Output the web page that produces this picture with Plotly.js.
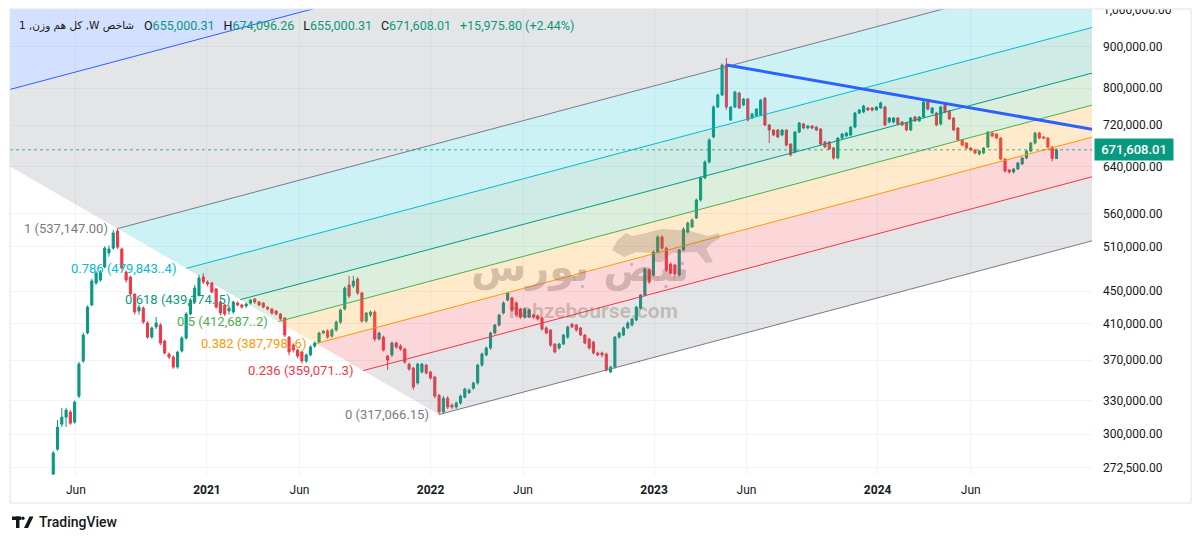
<!DOCTYPE html>
<html><head><meta charset="utf-8">
<script src="https://cdn.plot.ly/plotly-3.0.1.min.js"></script>
<style>html,body{margin:0;padding:0;background:#fff;}#chart{width:1200px;height:542px;}</style>
</head><body><div id="chart"></div>
<script>
// ---------- DATA ----------
const firstBarDate = '2020-04-25';   // weekly bars
const openPrices = [
267800,287400,308500,314700,319300,310300,334000,369000,399500,432500,
460400,464300,481700,501300,508200,533500,506900,474900,468300,446200,
425200,428800,411000,394900,406400,408700,390500,376400,373200,362800,
379600,393800,421600,436200,444900,468300,461700,460400,452600,436200,
432500,425200,424000,435000,432500,431300,434900,440000,436200,435000,
430000,427600,425200,421600,416900,394900,386100,380700,378600,369000,
375400,385000,389400,399500,401800,396000,402900,412100,427600,457800,
456500,465600,447500,413300,420400,424000,392700,394900,374300,375400,
388300,385000,381800,365800,361700,346700,357700,364800,357700,352600,
334900,319500,332100,325700,323800,327600,333000,337300,341700,346700,
364800,375400,382900,399500,408700,422800,438700,441200,435000,427600,
418000,418000,420400,419200,416900,405300,402900,387200,382900,387200,
394900,409800,408700,405300,397200,392700,389400,377500,377500,376400,
357700,362800,394900,397200,405300,408700,414500,428800,444900,477600,
470900,502600,524500,508200,485800,484400,470900,505500,532000,539600,
553500,582500,620000,648800,696400,758300,784500,854300,730900,758300,
789000,762600,775700,735000,739200,741300,777900,720600,710400,710400,
700400,710400,682600,667400,706400,722700,714400,718500,716400,712400,
686600,686600,675000,656200,694400,698400,700400,716400,745500,747700,
756200,756200,751900,756200,758300,726800,726800,735000,726800,724700,
710400,737100,728800,737100,769100,745500,745500,722700,762600,749800,
735000,714400,690500,684600,675000,671200,663600,665500,677000,704400,
702400,694400,654300,634200,630600,636000,645200,656200,669300,684600,
704400,696400,694400,677000,655000.31];
const highPrices = [
286000,312100,322900,322900,321000,330000,368000,400000,432000,466000,
476000,477600,511000,512000,535000,537147,509000,477000,470000,447000,
433000,431000,413000,407000,418000,411000,392000,378000,375000,380000,
396000,424000,441000,458000,471000,473500,464000,462000,454000,438000,
434000,432000,438000,437000,434000,435500,440000,441000,437500,436000,
431000,429000,426500,423000,418000,396000,388000,382000,380000,377000,
386000,390000,401000,403000,404000,404500,414000,428000,456000,469600,
469600,468000,449000,424000,426000,426000,401000,396500,375400,390000,
390000,387000,383000,367500,363000,367000,367000,366000,359000,354000,
336000,334000,334000,327000,329000,335500,342000,341500,348000,366000,
378000,384500,401000,410000,422000,437000,449000,443000,437000,429000,
429000,428000,422000,421000,418000,407000,404000,388000,388500,398500,
408000,411000,410000,406500,398500,394000,391000,379000,379000,378000,
364000,396000,401000,407000,413000,417000,431500,446000,481000,480000,
505000,527000,527000,510000,488000,486000,507000,539000,548000,553000,
585000,623000,652000,694000,762000,788000,858000,871400,760000,794000,
792000,778000,778000,746000,756000,776000,780000,722000,712000,712000,
712000,712000,684000,708000,727000,725000,720000,720000,718000,714000,
689000,688000,677000,696000,704000,706000,718000,748000,754000,763000,
758000,758000,760000,770000,761000,737000,737000,737000,728000,726000,
737000,739000,739000,772000,772000,758000,748000,761000,765000,752000,
737000,716000,692000,686000,677000,673000,671000,677000,708000,706000,
704000,696000,656000,636000,638000,649000,658000,671000,687000,707000,
707000,698000,696000,679000,674096.26];
const lowPrices = [
266000,286000,306000,306000,308000,309000,332000,367000,398000,431000,
458000,462000,480000,496000,506000,507000,478000,461000,444000,421000,
421000,410000,393000,393000,404000,386000,376000,371000,361000,361000,
378000,392000,420000,434000,443000,459000,456000,447000,428000,420000,
419000,421000,422000,431000,428000,429000,433000,434000,431000,428500,
426000,421000,420000,414000,395000,375000,378000,372000,366500,367000,
374000,383000,388000,398000,393000,394000,401000,410000,426000,441000,
454000,445000,411000,411000,418000,390000,391000,379000,359700,373000,
382000,380000,366000,359000,340000,345000,356000,355000,350000,332000,
317066.15,318000,322000,322000,322000,326000,332000,336000,340000,345000,
363000,374000,381000,398000,407000,421000,437000,424000,418000,416000,
416000,417000,416000,414000,402000,398000,384000,377000,381000,386000,
393000,405000,401000,396000,387000,381000,376000,374000,373000,358000,
356700,361000,393000,396000,404000,407000,413000,427000,443000,459000,
469000,501000,506000,475000,471000,469000,469000,504000,530000,538000,
552000,580000,618000,646000,694000,756000,782000,752000,729000,756000,
754000,760000,728000,733000,737000,739000,718000,684600,698000,694000,
698000,678000,659000,665000,704000,712000,712000,712000,708000,680000,
675000,671000,653000,654000,692000,696000,698000,714000,743000,745000,
750000,749000,750000,754000,718000,724000,724000,720000,718000,708000,
708000,727000,727000,735000,751000,743000,718000,720000,745000,731000,
708000,688000,678000,673000,669000,663000,661000,663000,675000,696000,
692000,652000,630000,628000,628000,634000,643000,654000,667000,682000,
692000,692000,675000,650000,655000.31];
const closePrices = [
284300,305900,314700,321100,309400,328400,365800,397200,430000,463000,
473500,474900,508200,506900,530500,509600,480300,464300,446200,424000,
430000,412100,394900,405300,411000,388300,377500,373200,362800,378500,
393800,421600,438700,453900,467000,461700,459100,448700,430000,422800,
421600,428800,436200,432500,430000,433700,438700,436200,432500,430000,
427600,422800,421600,415700,397200,378600,380700,374300,369000,375400,
384000,388300,399500,401800,394900,402900,412100,426400,453900,443600,
463000,447500,413300,422800,424000,392700,399500,380700,370000,388300,
384000,381800,367900,360700,342700,365800,365800,356700,351600,334000,
319500,332100,323800,323800,327600,334000,340800,339800,346700,364800,
376400,382900,399500,408700,420400,435000,447500,426400,420400,418000,
427600,426400,418000,415700,404100,399500,386100,378600,387200,397200,
406400,406400,402900,397200,388300,382900,377500,375400,375400,359700,
362800,394900,399500,405300,411000,415700,430000,444900,479000,461700,
502600,524500,508200,477600,473500,472200,505500,536500,545700,550400,
582500,620000,648800,690500,758300,784500,854300,758300,758300,791300,
756200,775700,730900,743400,754000,773500,720600,710400,700400,696400,
710400,680700,661700,706400,724700,714400,718500,714400,710400,682600,
677000,673100,656200,694400,702400,704400,716400,745500,751900,760400,
751900,751900,758300,766900,720600,735000,735000,722700,720600,710400,
735000,728800,737100,769100,754000,756200,720600,758300,747700,733000,
710400,690500,680700,675000,671200,665500,669300,675000,706400,698400,
694400,654300,632400,630600,636000,647000,656200,669300,684600,704400,
694400,694400,677000,655632.21,671608.01];

const symbolTitle = '1 ,کل هم وزن ,W شاخص';

// Fib channel
const fibLevels = [0, 0.236, 0.382, 0.5, 0.618, 0.786, 1, 1.618, 2.618];
const fibColors = ['#787b86','#f23645','#ff9800','#4caf50','#089981','#00bcd4','#787b86','#2962ff','#f23645'];
const fibLabels = ['0 (317,066.15)','0.236 (359,071..3)','0.382 (387,798..6)','0.5 (412,687..2)','0.618 (439,174..5)','0.786 (479,843..4)','1 (537,147.00)','',''];
const fibAnchorDates = ['2022-01-15','2020-08-08','2024-12-16']; // level 0 start, level 1 start, point on level-0 line
const fibAnchorPrices = [317066.15, 537147.00, 518800];

// Trend line
const trendDates = ['2023-04-29','2024-12-16'];
const trendPrices = [854300, 712000];

// Axes
const yTickVals = [272500,300000,330000,370000,410000,450000,510000,560000,640000,720000,800000,900000,1000000];
const xTickDates = ['2020-06-01','2021-01-01','2021-06-01','2022-01-01','2022-06-01','2023-01-01','2023-06-01','2024-01-01','2024-06-01'];
const xTickText = ['Jun','2021','Jun','2022','Jun','2023','Jun','2024','Jun'];
const xRange = ['2020-02-14 10:00','2024-12-16'];
const yRangeVals = [267100, 1001200];

// ---------- BUILD ----------
const DAY = 86400000;
const ms = s => Date.parse(s.replace(' ','T') + (s.length <= 10 ? 'T00:00:00Z' : ':00Z'));
const iso = t => new Date(t).toISOString().replace('T',' ').replace('Z','');
const t0 = ms(firstBarDate);
const dates = openPrices.map((_, i) => iso(t0 + i*7*DAY).slice(0,10));
const fmt2 = v => v.toLocaleString('en-US',{minimumFractionDigits:2, maximumFractionDigits:2});

function rgba(hex, a){
  const r=parseInt(hex.slice(1,3),16), g=parseInt(hex.slice(3,5),16), b=parseInt(hex.slice(5,7),16);
  return `rgba(${r},${g},${b},${a})`;
}

const tB = ms(fibAnchorDates[0]), tA = ms(fibAnchorDates[1]), tE = ms(fibAnchorDates[2]);
const lB = Math.log10(fibAnchorPrices[0]), lA = Math.log10(fibAnchorPrices[1]), lE = Math.log10(fibAnchorPrices[2]);
const k = (lE - lB) / (tE - tB);
const tEnd = ms('2025-01-20');
const startOf = L => [tB + L*(tA - tB), lB + L*(lA - lB)];
const levelAt = (L, t) => { const s = startOf(L); return s[1] + k*(t - s[0]); };

const traces = [];
for (let i = 0; i < fibLevels.length - 1; i++) {
  const a = fibLevels[i], b = fibLevels[i+1];
  const sa = startOf(a), sb = startOf(b);
  traces.push({
    type:'scatter', mode:'lines', hoverinfo:'skip', showlegend:false,
    x:[iso(sa[0]), iso(tEnd), iso(tEnd), iso(sb[0]), iso(sa[0])],
    y:[sa[1], levelAt(a,tEnd), levelAt(b,tEnd), sb[1], sa[1]].map(v => Math.pow(10,v)),
    fill:'toself', fillcolor: rgba(fibColors[i], 0.2), line:{width:0}
  });
}
for (let i = 0; i < fibLevels.length - 1; i++) {
  const L = fibLevels[i], s = startOf(L);
  traces.push({
    type:'scatter', mode:'lines', hoverinfo:'skip', showlegend:false,
    x:[iso(s[0]), iso(tEnd)], y:[Math.pow(10,s[1]), Math.pow(10,levelAt(L,tEnd))],
    line:{color:fibColors[i], width:1}
  });
}
const last = closePrices.length - 1;
traces.push({
  type:'scatter', mode:'lines', hoverinfo:'skip', showlegend:false,
  x:[xRange[0], xRange[1]], y:[closePrices[last], closePrices[last]],
  line:{color:'rgba(8,153,129,0.75)', width:1, dash:'dot'}
});
traces.push({
  type:'candlestick', x:dates, open:openPrices, high:highPrices, low:lowPrices, close:closePrices,
  increasing:{line:{color:'#089981', width:1}, fillcolor:'#089981'},
  decreasing:{line:{color:'#f23645', width:1}, fillcolor:'#f23645'},
  whiskerwidth:0, hoverinfo:'skip', showlegend:false
});
traces.push({
  type:'scatter', mode:'lines', hoverinfo:'skip', showlegend:false,
  x:trendDates, y:trendPrices, line:{color:'#2962ff', width:3}
});

const FONT = 'Roboto, "DejaVu Sans", sans-serif';
const px = x => (x-10)/1082, py = y => (475-y)/466;
const annotations = [];
for (let i = 0; i < fibLevels.length; i++) {
  if (!fibLabels[i]) continue;
  const s = startOf(fibLevels[i]);
  annotations.push({
    xref:'x', yref:'y', x: iso(s[0]), y: s[1], xanchor:'right', yanchor:'middle', xshift:-8,
    text: fibLabels[i], showarrow:false, font:{family:FONT, size:13, color:fibColors[i]}
  });
}
const chg = closePrices[last] - closePrices[last-1];
const pct = chg / closePrices[last-1] * 100;
const G = s => `<span style="color:#089981">${s}</span>`;
const sp = '\u2002\u2009';
annotations.push({
  xref:'paper', yref:'paper', x:px(136), y:py(25), xanchor:'right', yanchor:'middle',
  showarrow:false, font:{family:'"DejaVu Sans", Roboto, sans-serif', size:10.5, color:'#131722'},
  text: symbolTitle
});
annotations.push({
  xref:'paper', yref:'paper', x:px(142), y:py(25), xanchor:'left', yanchor:'middle',
  showarrow:false, font:{family:FONT, size:12.5, color:'#131722'},
  text: 'O' + G(fmt2(openPrices[last])) + sp + 'H' + G(fmt2(highPrices[last])) + sp +
        'L' + G(fmt2(lowPrices[last])) + sp + 'C' + G(fmt2(closePrices[last])) + sp +
        G('+' + fmt2(chg) + ' (+' + pct.toFixed(2) + '%)')
});
annotations.push({
  xref:'paper', yref:'y', x:1, xshift:2, xanchor:'left', y:Math.log10(closePrices[last]), yanchor:'middle',
  text: '\u00a0' + fmt2(closePrices[last]) + '\u00a0', showarrow:false, bgcolor:'#089981', borderpad:3,
  font:{family:FONT, size:13, color:'#ffffff', weight:500}
});
annotations.push({
  xref:'paper', yref:'paper', x:px(580), y:py(267), xanchor:'center', yanchor:'middle',
  text:'<b>نبض بورس</b>', showarrow:false, font:{family:'"DejaVu Sans", sans-serif', size:40, color:'rgba(120,95,80,0.33)'}
});
annotations.push({
  xref:'paper', yref:'paper', x:px(593), y:py(311), xanchor:'center', yanchor:'middle',
  text:'<b>nabzebourse.com</b>', showarrow:false, font:{family:FONT, size:21, color:'rgba(120,95,80,0.33)'}
});
annotations.push({
  xref:'paper', yref:'paper', x:px(37), y:py(522), xanchor:'left', yanchor:'middle',
  text:'TradingView', showarrow:false, font:{family:FONT, size:14, color:'#131722', weight:500}
});

const bullPts = [[612,250],[617,241],[626,233],[632,236],[642,234],[662,229],[690,231],[708,236],[719,233],[720,238],[712,243],[706,249],[713,262],[706,263],[697,252],[672,253],[662,262],[655,262],[651,253],[636,252],[624,257]];
const bullPath = 'M ' + bullPts.map(p => px(p[0]) + ' ' + py(p[1])).join(' L ') + ' Z';
const shapes = [
  {type:'path', xref:'paper', yref:'paper', path:bullPath, fillcolor:'rgba(120,95,80,0.25)', line:{width:0}, layer:'above'},
  {type:'rect', xref:'paper', yref:'paper', x0:px(1093), x1:px(1200), y0:py(9), y1:py(0), fillcolor:'#ffffff', line:{width:0}, layer:'above'},
  {type:'rect', xref:'paper', yref:'paper', x0:px(10), x1:px(1191), y0:py(503), y1:py(9), line:{color:'#e0e3eb', width:1}, layer:'above'},
  {type:'rect', xref:'paper', yref:'paper', x0:px(12), x1:px(21), y0:py(520), y1:py(516.5), fillcolor:'#131722', line:{width:0}},
  {type:'rect', xref:'paper', yref:'paper', x0:px(16), x1:px(19.5), y0:py(528), y1:py(516.5), fillcolor:'#131722', line:{width:0}},
  {type:'circle', xref:'paper', yref:'paper', x0:px(21.2), x1:px(24.6), y0:py(520), y1:py(516.5), fillcolor:'#131722', line:{width:0}},
  {type:'path', xref:'paper', yref:'paper', fillcolor:'#131722', line:{width:0},
   path:`M ${px(24)} ${py(528)} L ${px(29.5)} ${py(516.5)} L ${px(33.5)} ${py(516.5)} L ${px(28)} ${py(528)} Z`}
];

const layout = {
  width:1200, height:542, margin:{l:10, r:108, t:9, b:67},
  paper_bgcolor:'#ffffff', plot_bgcolor:'#ffffff', showlegend:false,
  font:{family:FONT, size:12, color:'#131722'},
  xaxis:{type:'date', range:xRange, tickvals:xTickDates, ticktext:xTickText.map(t => /^\d/.test(t) ? '<b>'+t+'</b>' : t),
         showgrid:true, gridcolor:'#f0f3fa', gridwidth:1, zeroline:false, showline:false, ticks:'',
         tickfont:{family:FONT, size:12, color:'#131722'}, ticklabelstandoff:6,
         rangeslider:{visible:false}, fixedrange:true},
  yaxis:{type:'log', side:'right', range:yRangeVals.map(Math.log10), tickvals:yTickVals, ticktext:yTickVals.map(fmt2),
         showgrid:true, gridcolor:'#f0f3fa', gridwidth:1, zeroline:false, showline:false, ticks:'',
         tickfont:{family:FONT, size:12, color:'#131722'}, ticklabelstandoff:10, fixedrange:true},
  annotations, shapes
};
Plotly.newPlot('chart', traces, layout, {displayModeBar:false, staticPlot:true});
</script></body></html>
